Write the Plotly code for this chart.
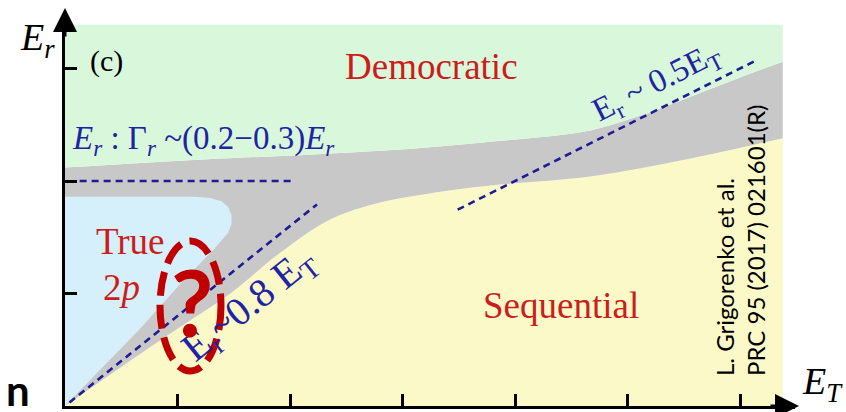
import plotly.graph_objects as go

W, H = 846, 412

# Panel extent in axis units (one unit per tick)
panel_et = [0.0, 6.38]
panel_er_top = 3.39

# Border between the democratic region and the grey transition band
demo_edge_et = [0.0, 1.2, 2.09, 2.98, 3.78, 4.22, 4.67, 5.11, 5.56, 6.0, 6.38]
demo_edge_er = [2.12, 2.19, 2.23, 2.28, 2.35, 2.39, 2.45, 2.58, 2.75, 2.92, 3.06]

# Border between the grey transition band and the sequential region
seq_edge_et = [0.0, 0.49, 1.02, 1.47, 1.91, 2.36, 2.8, 3.24, 3.78, 4.67, 5.56, 6.38]
seq_edge_er = [0.0, 0.34, 0.70, 1.00, 1.36, 1.66, 1.81, 1.89, 1.96, 2.04, 2.20, 2.38]

# Outline of the true 2p region
true2p_et = [0.0, 0.0, 1.16, 1.29, 1.39, 1.45, 1.48, 1.48, 1.45, 1.32, 1.02, 0.67, 0.31, 0.0]
true2p_er = [0.0, 1.86, 1.86, 1.85, 1.82, 1.77, 1.70, 1.62, 1.54, 1.39, 1.08, 0.69, 0.32, 0.0]

# Reference lines
width_line_er = 2.0
width_line_et = [0.13, 2.03]
ratio_low = 0.8
ratio_low_et = [0.04, 2.24]
ratio_high = 0.5
ratio_high_et = [3.49, 6.15]

et_ticks = [1, 2, 3, 4, 5, 6]
er_ticks = [1, 2, 3]

GREEN = "#d9f8db"
GREY = "#c8c8c8"
YELLOW = "#fcf9c9"
BLUE = "#d6f0fb"
RED = "#cc1c1c"
DARKRED = "#c00000"
NAVY = "#1e24a4"
DASH_NAVY = "#1c1c94"

# pixel geometry of the axes
X0, Y0 = 65, 406          # origin
UNIT = 112.5              # pixels per axis unit
X_END, Y_END = 795, 14    # ends of the axis lines

fig = go.Figure()


def band(x, y, fill=None, color=None, shape="linear"):
    fig.add_trace(go.Scatter(
        x=x, y=y, mode="lines", line=dict(width=0, shape=shape),
        fill=fill, fillcolor=color, hoverinfo="skip", showlegend=False))


# stacked regions: sequential, transition band, democratic
band(panel_et, [0, 0])
band(seq_edge_et, seq_edge_er, "tonexty", YELLOW, "spline")
band(demo_edge_et, demo_edge_er, "tonexty", GREY, "spline")
band(panel_et, [panel_er_top, panel_er_top], "tonexty", GREEN)

# true 2p region
fig.add_trace(go.Scatter(
    x=true2p_et, y=true2p_er, mode="lines", line=dict(width=0),
    fill="toself", fillcolor=BLUE, hoverinfo="skip", showlegend=False))


def dashed(x, y):
    fig.add_trace(go.Scatter(
        x=x, y=y, mode="lines",
        line=dict(color=DASH_NAVY, width=2.6, dash="7px,5px"),
        hoverinfo="skip", showlegend=False))


dashed(width_line_et, [width_line_er, width_line_er])
dashed(ratio_low_et, [ratio_low * e for e in ratio_low_et])
dashed(ratio_high_et, [ratio_high * e for e in ratio_high_et])


def px(xp, yp):
    return xp / W, 1 - yp / H


annotations = []


def label(text, xp, yp, size, color="black", family="Liberation Serif",
          angle=0, xanchor="center", align="center"):
    x, y = px(xp, yp)
    annotations.append(dict(
        text=text, x=x, y=y, xref="paper", yref="paper", showarrow=False,
        xanchor=xanchor, yanchor="middle", textangle=angle, align=align,
        font=dict(size=size, color=color, family=family)))


label("<i>E<sub>r</sub></i>", 37, 40, 38)
label("<i>E<sub>T</sub></i>", 822, 384, 38)
label("(c)", 107, 61, 30)
label("Democratic", 432, 66, 37, RED)
label("Sequential", 561, 305, 37, RED)
label("True", 130, 242, 37, RED)
label("2<i>p</i>", 121, 287, 37, RED)
label("<i>E<sub>r</sub></i> : Γ<sub><i>r</i></sub> ~(0.2−0.3)<i>E<sub>r</sub></i>",
      70, 140, 33, NAVY, xanchor="left")
label("E<sub>r</sub> ~ 0.5E<sub>T</sub>", 657, 83, 33, NAVY, angle=-26.6)
label("E<sub>r</sub>~0.8 E<sub>T</sub>", 250, 305, 40, NAVY, angle=-38.7)
label("<b>?</b>", 192, 301, 92, DARKRED, family="Lato")
label("L. Grigorenko et al.<br>PRC 95 (2017) 021601(R)", 740, 241, 24,
      family="Lato", angle=-90, align="left")
label("<b>n</b>", 4, 390, 42, family="Lato", xanchor="left")

# axis arrowheads
for tip, off in (((799, Y0), (-30, 0)), ((X0, 8), (0, 30))):
    x, y = px(*tip)
    annotations.append(dict(
        x=x, y=y, xref="paper", yref="paper", ax=off[0], ay=off[1],
        text="", showarrow=True, arrowhead=2, arrowsize=1.6, arrowwidth=3,
        arrowcolor="black", standoff=0))

# dashed ellipse around the question mark
ex0, ey1 = px(160, 241)
ex1, ey0 = px(221, 371)

fig.update_layout(
    width=W, height=H, margin=dict(l=0, r=0, t=0, b=0),
    paper_bgcolor="white", plot_bgcolor="white",
    annotations=annotations,
    shapes=[dict(type="circle", xref="paper", yref="paper",
                 x0=ex0, x1=ex1, y0=ey0, y1=ey1,
                 line=dict(color=DARKRED, width=7, dash="24px,9px"),
                 layer="above")],
    xaxis=dict(domain=[X0 / W, X_END / W], range=[0, (X_END - X0) / UNIT],
               showgrid=False, zeroline=False, showline=True, linewidth=3,
               linecolor="black", ticks="inside", tickvals=et_ticks,
               ticklen=12, tickwidth=2.5, tickcolor="black",
               showticklabels=False, fixedrange=True),
    yaxis=dict(domain=[1 - Y0 / H, 1 - Y_END / H], range=[0, (Y0 - Y_END) / UNIT],
               showgrid=False, zeroline=False, showline=True, linewidth=3,
               linecolor="black", ticks="inside", tickvals=er_ticks,
               ticklen=12, tickwidth=2.5, tickcolor="black",
               showticklabels=False, fixedrange=True),
)

fig.write_html("out.html")
